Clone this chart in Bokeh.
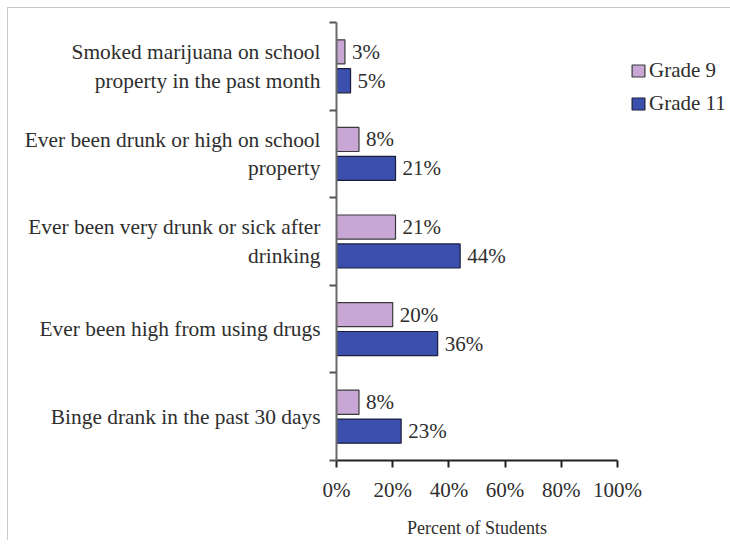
from bokeh.plotting import figure
from bokeh.models import ColumnDataSource, FixedTicker, Range1d, Legend, LegendItem
from bokeh.core.properties import value
from bokeh.embed import file_html
from bokeh.resources import INLINE

categories = [
    "Smoked marijuana on school\nproperty in the past month",
    "Ever been drunk or high on school\nproperty",
    "Ever been very drunk or sick after\ndrinking",
    "Ever been high from using drugs",
    "Binge drank in the past 30 days",
]
grade9 = [3, 8, 21, 20, 8]
grade11 = [5, 21, 44, 36, 23]
x_ticks = [0, 20, 40, 60, 80, 100]
x_tick_labels = ["0%", "20%", "40%", "60%", "80%", "100%"]

FONT = "Liberation Serif"
TXT = "#2e2e2e"
n = len(categories)
centers = [n - i - 0.5 for i in range(n)]  # top category at the top

off = 0.165
h = 0.275
src9 = ColumnDataSource(dict(y=[c + off for c in centers], x=grade9,
                             lbl=[f"{v}%" for v in grade9]))
src11 = ColumnDataSource(dict(y=[c - off for c in centers], x=grade11,
                              lbl=[f"{v}%" for v in grade11]))

p = figure(output_backend="svg", toolbar_location=None,
           x_range=Range1d(0, 100), y_range=Range1d(0, n),
           frame_width=281, frame_height=438)
p.styles = {"margin-left": "7px", "margin-top": "7px",
            "border-left": "1px solid #c8c8c8", "border-top": "1px solid #c8c8c8"}
p.min_border_left = 328
p.min_border_top = 14
p.min_border_right = 10
p.min_border_bottom = 72
p.outline_line_color = None
p.background_fill_color = "white"
p.border_fill_color = "white"
p.grid.visible = False

r9 = p.hbar(y="y", right="x", left=0, height=h, source=src9,
            fill_color="#C8A7D7", line_color="#3a3a3a", line_width=1.2)
r11 = p.hbar(y="y", right="x", left=0, height=h, source=src11,
             fill_color="#3A50AC", line_color="#1c1c3c", line_width=1.2)

for s in (src9, src11):
    p.text(x="x", y="y", text="lbl", source=s, x_offset=7,
           text_baseline="middle", text_align="left",
           text_font=value(FONT), text_font_size="21px", text_color=TXT)

# x axis
xa = p.xaxis[0]
xa.ticker = FixedTicker(ticks=x_ticks)
xa.major_label_overrides = {t: l for t, l in zip(x_ticks, x_tick_labels)}
xa.major_label_text_font = FONT
xa.major_label_text_font_size = "21px"
xa.major_label_text_font_style = "normal"
xa.major_label_text_color = TXT
xa.major_label_standoff = 10
xa.major_tick_out = 7
xa.major_tick_in = 0
xa.minor_tick_out = 0
xa.minor_tick_in = 0
xa.axis_line_color = "#222222"
xa.axis_line_width = 2
xa.major_tick_line_color = "#222222"
xa.major_tick_line_width = 2
xa.axis_label = "Percent of Students"
xa.axis_label_text_font = FONT
xa.axis_label_text_font_size = "18px"
xa.axis_label_text_font_style = "normal"
xa.axis_label_text_color = TXT
xa.axis_label_standoff = 13

# y axis: labels at centers, ticks at band boundaries
ya = p.yaxis[0]
ya.ticker = FixedTicker(ticks=centers, minor_ticks=list(range(n + 1)))
ya.major_label_overrides = {c: categories[i] for i, c in enumerate(centers)}
ya.major_label_text_font = FONT
ya.major_label_text_font_size = "21.4px"
ya.major_label_text_font_style = "normal"
ya.major_label_text_color = TXT
ya.major_label_standoff = 9
ya.major_tick_out = 0
ya.major_tick_in = 0
ya.minor_tick_out = 7
ya.minor_tick_in = 0
ya.minor_tick_line_color = "#555555"
ya.minor_tick_line_width = 2
ya.axis_line_color = "#6a6a6a"
ya.axis_line_width = 2

legend = Legend(items=[LegendItem(label="Grade 9", renderers=[r9]),
                       LegendItem(label="Grade 11", renderers=[r11])],
                location=(13, 344), orientation="vertical")
legend.margin = 0
legend.padding = 0
legend.border_line_color = None
legend.background_fill_alpha = 0
legend.glyph_width = 16
legend.glyph_height = 15
legend.label_height = 25
legend.spacing = 8
legend.label_standoff = 3
legend.label_text_font = FONT
legend.label_text_font_size = "21px"
legend.label_text_color = TXT
p.add_layout(legend, "right")

open("out.html", "w").write(file_html(p, INLINE))
